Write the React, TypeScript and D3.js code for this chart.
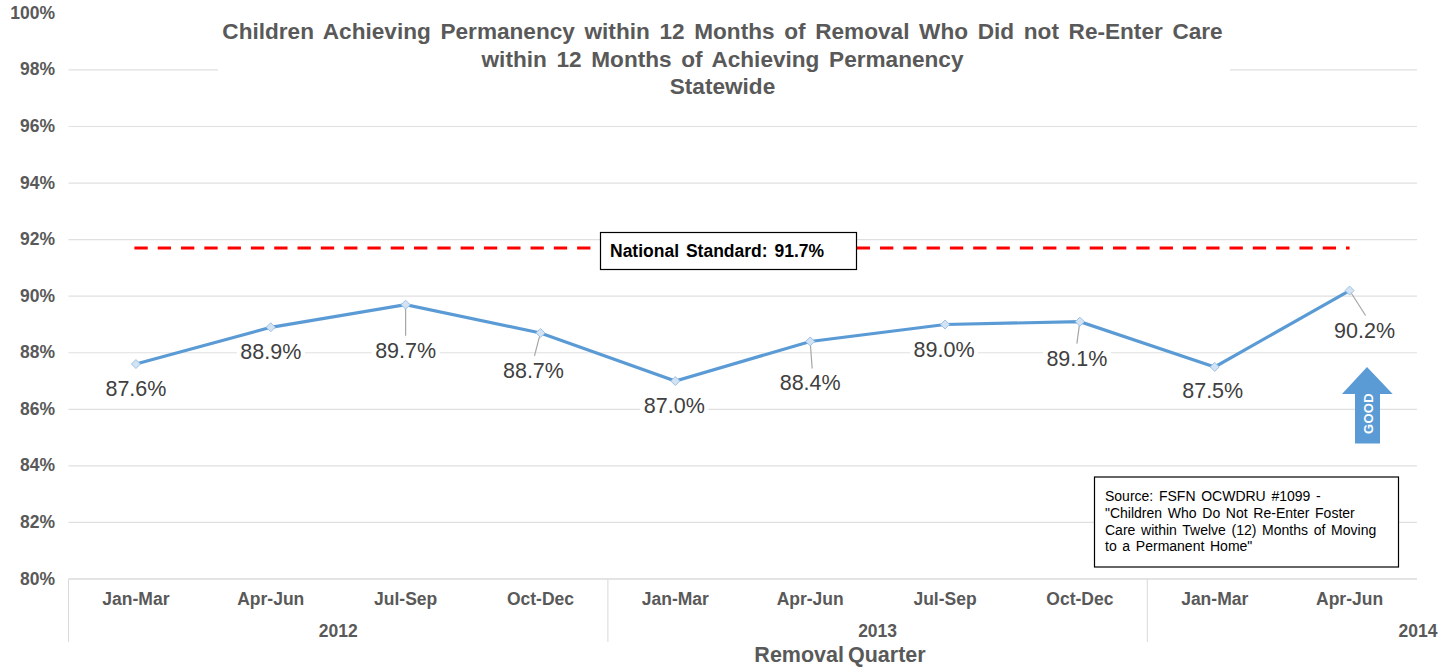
import React from "react";
import * as d3 from "d3";

const quarters = ["Jan-Mar","Apr-Jun","Jul-Sep","Oct-Dec","Jan-Mar","Apr-Jun","Jul-Sep","Oct-Dec","Jan-Mar","Apr-Jun"];
const values = [87.6,88.9,89.7,88.7,87.0,88.4,89.0,89.1,87.5,90.2];
const years = [{ label: "2012", from: 0, to: 4 }, { label: "2013", from: 4, to: 8 }, { label: "2014", from: 8, to: 10 }];
const yTicks = [80,82,84,86,88,90,92,94,96,98,100];
const nationalStandard = 91.7;
const titleLines = ["Children Achieving Permanency within 12 Months of Removal Who Did not Re-Enter Care","within 12 Months of Achieving Permanency","Statewide"];
const sourceLines = ["Source: FSFN OCWDRU #1099 -","\"Children Who Do Not Re-Enter Foster","Care within Twelve (12) Months of Moving","to a Permanent Home\""];
// label offsets relative to each point, and leader flags
const labelDx = [0,0,0,-7,-1,0,-1,-3,-2,15];
const labelDy = [32,32,53,45,32,49,33,44,31,47];
const leaderEnd = [0,0,1,1,0,1,0,1,0,1];

const FONT = "Liberation Sans, Arial, sans-serif";
const GREY = "#595959";

export default function App() {
  const x0 = 68.5, x1 = 1417, yTop = 13.4, yBot = 579;
  const y = d3.scaleLinear().domain([80,100]).range([yBot,yTop]);
  const x = d3.scaleBand<number>().domain(d3.range(10)).range([x0,x1]);
  const cx = (i: number) => x(i)! + x.bandwidth()/2;
  const line = d3.line<number>().x((_, i) => cx(i)).y(d => y(d));
  const edge = (i: number) => (i >= 10 ? x1 : x(i)!);
  return (
    <svg width={1454} height={667} style={{ position: "absolute", left: 0, top: 0, background: "#fff" }} fontFamily={FONT}>
      {yTicks.map(t => (
        <g key={t}>
          {t > 80 && t < 100 && <line x1={x0} x2={x1} y1={y(t)} y2={y(t)} stroke="#e0e0e0" strokeWidth={1.2} />}
          <text x={55} y={y(t)+5.5} textAnchor="end" fontSize={17.5} fontWeight={700} fill={GREY}>{t}%</text>
        </g>
      ))}
      <line x1={x0} x2={x1} y1={yBot} y2={yBot} stroke="#e4e4e4" strokeWidth={2} />
      {years.map(yr => <line key={yr.label} x1={edge(yr.from)} x2={edge(yr.from)} y1={yBot} y2={642} stroke="#d9d9d9" />)}
      <rect x={218} y={0} width={1012} height={104} fill="#fff" />
      {titleLines.map((l,i) => (
        <text key={i} x={722.5} y={39+i*27.5} textAnchor="middle" fontSize={22.6} fontWeight={700} fill={GREY} wordSpacing={3.4}>{l}</text>
      ))}
      <line x1={cx(0)-1.5} x2={cx(9)} y1={y(nationalStandard)} y2={y(nationalStandard)} stroke="#ff0000" strokeWidth={3} strokeDasharray="13.3 10" />
      <rect x={600.5} y={232.5} width={256} height={37} fill="#fff" stroke="#000" strokeWidth={1.2} />
      <text x={610} y={257} fontSize={17.5} fontWeight={700} fill="#000" wordSpacing={2}>National Standard: 91.7%</text>
      {values.map((v,i) => {
        const lx = cx(i)+labelDx[i], ly = y(v)+labelDy[i];
        return (
          <g key={i}>
            <rect x={lx-34} y={ly-20} width={68} height={26} fill="#fff" />
            {leaderEnd[i] === 1 && <line x1={cx(i)} y1={y(v)} x2={lx+(i===3?1:i===5?2:i===9?1:0)} y2={ly-22} stroke="#a6a6a6" strokeWidth={1.2} />}
            <text x={lx} y={ly} textAnchor="middle" fontSize={21.5} fill="#404040">{v.toFixed(1)}%</text>
          </g>
        );
      })}
      <path d={line(values)!} fill="none" stroke="#5b9bd5" strokeWidth={3.2} />
      {values.map((v,i) => (
        <path key={i} transform={`translate(${cx(i)},${y(v)})`} d="M0,-4.5L4.5,0L0,4.5L-4.5,0Z" fill="#d3e3f3" stroke="#9dc3e6" strokeWidth={1} />
      ))}
      {quarters.map((q,i) => (
        <text key={i} x={cx(i)} y={605} textAnchor="middle" fontSize={17.5} fontWeight={700} fill={GREY}>{q}</text>
      ))}
      {years.map(yr => (
        <text key={yr.label} x={yr.label === "2014" ? 1418 : (edge(yr.from)+edge(yr.to))/2} y={637} textAnchor="middle" fontSize={17.5} fontWeight={700} fill={GREY}>{yr.label}</text>
      ))}
      <text x={840} y={662} textAnchor="middle" fontSize={21.5} fontWeight={700} fill={GREY} wordSpacing={-2}>Removal Quarter</text>
      <path d="M1355,443.5V394H1342L1367,367L1392.7,394H1380V443.5Z" fill="#5b9bd5" />
      <text transform="translate(1373,434) rotate(-90)" fontSize={13} fontWeight={700} fill="#fff" letterSpacing={0.3}>GOOD</text>
      <rect x={1094.5} y={477} width={304} height={90} fill="#fff" stroke="#000" strokeWidth={1.2} />
      {sourceLines.map((l,i) => (
        <text key={i} x={1105} y={501+i*16.8} fontSize={14} fill="#000" wordSpacing={1.8}>{l}</text>
      ))}
    </svg>
  );
}
